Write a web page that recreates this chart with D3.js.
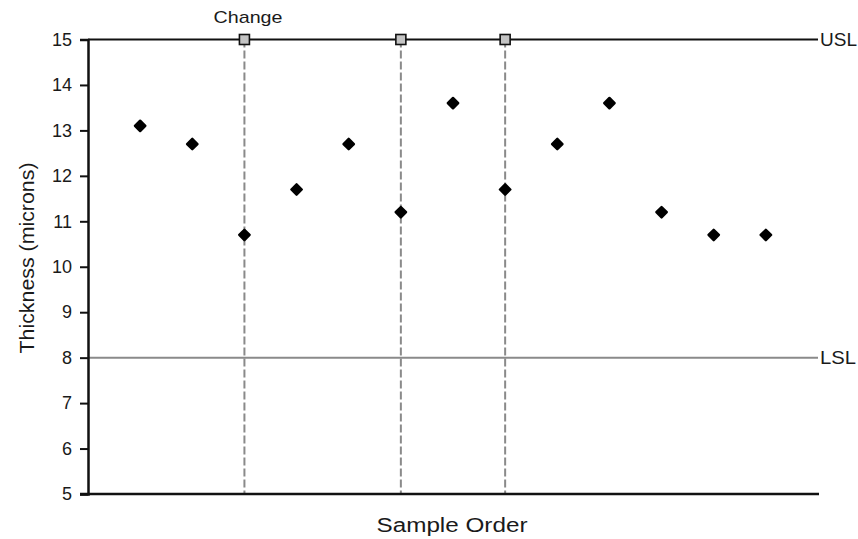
<!DOCTYPE html>
<html>
<head>
<meta charset="utf-8">
<script src="https://cdn.jsdelivr.net/npm/d3@7"></script>
<style>
  html, body { margin: 0; padding: 0; background: #fff; }
  svg { display: block; }
  text { font-family: "Liberation Sans", Arial, sans-serif; fill: #1a1a1a; }
</style>
</head>
<body>
<svg id="chart" width="858" height="539"></svg>
<script>
const samples = [1, 2, 3, 4, 5, 6, 7, 8, 9, 10, 11, 12, 13];
const thickness = [13.1, 12.7, 10.7, 11.7, 12.7, 11.2, 13.6, 11.7, 12.7, 13.6, 11.2, 10.7, 10.7];
const changeAt = [3, 6, 8];
const yTicks = [5, 6, 7, 8, 9, 10, 11, 12, 13, 14, 15];
const USL = 15, LSL = 8;
const xTitle = "Sample Order";
const yTitle = "Thickness (microns)";
const changeLabel = "Change";

const svg = d3.select("#chart");
const mLeft = 88, mRight = 818, mTop = 39.5, mBottom = 494;

const x = d3.scaleLinear().domain([0, 14]).range([mLeft, mRight]);
const y = d3.scaleLinear().domain([5, 15]).range([mBottom, mTop]);

// LSL line
svg.append("line")
  .attr("x1", mLeft).attr("x2", mRight)
  .attr("y1", y(LSL)).attr("y2", y(LSL))
  .attr("stroke", "#8a8a8a").attr("stroke-width", 2);

// change lines
svg.selectAll("line.change").data(changeAt).join("line")
  .attr("class", "change")
  .attr("x1", d => x(d)).attr("x2", d => x(d))
  .attr("y1", y(USL)).attr("y2", mBottom)
  .attr("stroke", "#8a8a8a").attr("stroke-width", 2)
  .attr("stroke-dasharray", "8,3");

// USL line
svg.append("line")
  .attr("x1", mLeft).attr("x2", mRight)
  .attr("y1", y(USL)).attr("y2", y(USL))
  .attr("stroke", "#111").attr("stroke-width", 2);

// y axis
const yAxis = d3.axisLeft(y).tickValues(yTicks).tickSize(8).tickPadding(8).tickFormat(d3.format("d"));
const gy = svg.append("g").attr("transform", `translate(${mLeft},0)`).call(yAxis);
gy.select(".domain").attr("stroke", "#111").attr("stroke-width", 2.5);
gy.selectAll(".tick line").attr("stroke", "#111").attr("stroke-width", 2);
gy.selectAll(".tick text").attr("font-size", 18).attr("fill", "#1a1a1a")
  .attr("font-family", "Liberation Sans, Arial, sans-serif");

// x axis line
const xAxis = d3.axisBottom(x).tickValues([]).tickSizeOuter(0);
const gx = svg.append("g").attr("transform", `translate(0,${mBottom})`).call(xAxis);
gx.select(".domain").attr("stroke", "#111").attr("stroke-width", 2.5)
  .attr("d", `M${mLeft - 8},0H${mRight + 1}`);

// change markers
svg.selectAll("rect.chg").data(changeAt).join("rect")
  .attr("class", "chg")
  .attr("x", d => x(d) - 5).attr("y", y(USL) - 5)
  .attr("width", 10).attr("height", 10)
  .attr("fill", "#c4c4c4").attr("stroke", "#111").attr("stroke-width", 1.6);

// data points
const diamond = d3.symbol().type(d3.symbolSquare).size(54);
svg.selectAll("path.pt").data(samples).join("path")
  .attr("class", "pt")
  .attr("d", diamond)
  .attr("transform", (d, i) => `translate(${x(d)},${y(thickness[i])}) rotate(45)`)
  .attr("fill", "#000").attr("stroke", "#000").attr("stroke-width", 2.4)
  .attr("stroke-linejoin", "round");

// labels
svg.append("text").attr("x", 248).attr("y", 23)
  .attr("text-anchor", "middle").attr("font-size", 17)
  .attr("textLength", 69).attr("lengthAdjust", "spacingAndGlyphs")
  .text(changeLabel);

svg.append("text").attr("x", 820).attr("y", y(USL)).attr("dy", "0.36em")
  .attr("font-size", 18).attr("textLength", 37).attr("lengthAdjust", "spacingAndGlyphs")
  .text("USL");
svg.append("text").attr("x", 820).attr("y", y(LSL)).attr("dy", "0.36em")
  .attr("font-size", 18).attr("textLength", 36).attr("lengthAdjust", "spacingAndGlyphs")
  .text("LSL");

svg.append("text").attr("x", 452).attr("y", 532)
  .attr("text-anchor", "middle").attr("font-size", 20)
  .attr("textLength", 151).attr("lengthAdjust", "spacingAndGlyphs")
  .text(xTitle);

svg.append("text")
  .attr("transform", "translate(34,258) rotate(-90)")
  .attr("text-anchor", "middle").attr("font-size", 20).attr("fill", "#333")
  .attr("textLength", 191).attr("lengthAdjust", "spacingAndGlyphs")
  .text(yTitle);
</script>
</body>
</html>
